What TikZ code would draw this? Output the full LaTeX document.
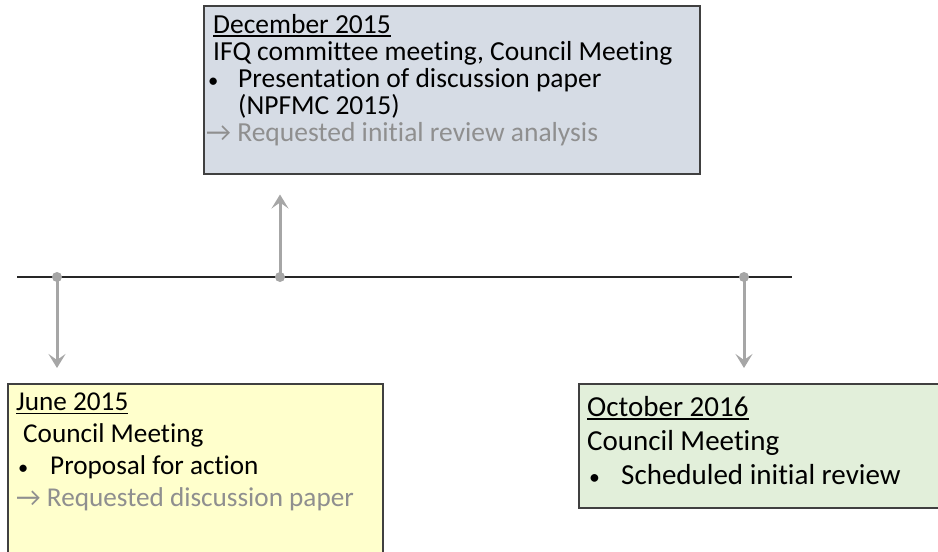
\documentclass[tikz,border=0pt]{standalone}
\usepackage{fontspec}
\usepackage{calc}
\setmainfont{Carlito}[Ligatures=NoCommon]
\usetikzlibrary{arrows.meta}
\definecolor{decfill}{HTML}{D6DCE5}
\definecolor{junfill}{HTML}{FFFFCC}
\definecolor{octfill}{HTML}{E2EFDA}
\definecolor{linkgray}{HTML}{A6A6A6}
\definecolor{reqgray}{HTML}{8F8F8F}
\definecolor{edge}{HTML}{404040}
\newcommand{\mybul}[1]{\makebox[#1][l]{\hspace*{2pt}\scalebox{0.75}{\textbullet}}}
\newcommand{\dateul}[1]{\rlap{\rule[-3.5pt]{\widthof{#1}}{1.8pt}}#1}
\begin{document}
\begin{tikzpicture}[x=1pt,y=-1pt,>={Stealth[length=14pt,width=17pt,inset=6pt]},
  box/.style={draw=edge,line width=1.5pt,anchor=north west,inner sep=0pt},
  txt/.style={anchor=north west,inner sep=0pt,align=left,text=black},
  link/.style={->,linkgray,line width=3pt},
  dot/.style={circle,fill=linkgray,inner sep=0pt,minimum size=10pt}]
\useasboundingbox (0,0) rectangle (938,552);
% boxes
\node[box,fill=decfill,minimum width=496pt,minimum height=168pt] (dec) at (203,5) {};
\node[box,fill=junfill,minimum width=375pt,minimum height=175pt] (jun) at (7,383) {};
\node[box,fill=octfill,minimum width=370pt,minimum height=124pt] (oct) at (578,383) {};
% texts
\node[txt,font=\fontsize{27.5}{27}\selectfont] (dectxt) at (206,14) {\hspace*{7pt}\dateul{December 2015}\\
  \hspace*{7pt}IFQ committee meeting, Council Meeting\\
  \mybul{32pt}Presentation of discussion paper\\
  \hspace*{32pt}(NPFMC 2015)\\
  \textcolor{reqgray}{→ Requested initial review analysis}};
\node[txt,font=\fontsize{27.2}{32}\selectfont] (juntxt) at (16,393) {\dateul{June 2015}\\
  \hspace*{7pt}Council Meeting\\
  \mybul{34pt}Proposal for action\\
  \textcolor{reqgray}{→ Requested discussion paper}};
\node[txt,font=\fontsize{29}{34}\selectfont] (octtxt) at (587,396) {\dateul{October 2016}\\
  Council Meeting\\
  \mybul{34pt}Scheduled initial review};
% timeline
\coordinate (tstart) at (17,277);
\coordinate (tend) at (792,277);
\draw[line width=2.4pt,black!85] (tstart) -- (tend);
\node[dot] (tjun) at (57,277) {};
\node[dot] (tdec) at (280,277) {};
\node[dot] (toct) at (744,277) {};
\draw[link,shorten >=15pt] (tjun.center) -- (tjun |- jun.north);
\draw[link,shorten >=20pt] (tdec.center) -- (tdec |- dec.south);
\draw[link,shorten >=15pt] (toct.center) -- (toct |- oct.north);
\end{tikzpicture}
\end{document}
